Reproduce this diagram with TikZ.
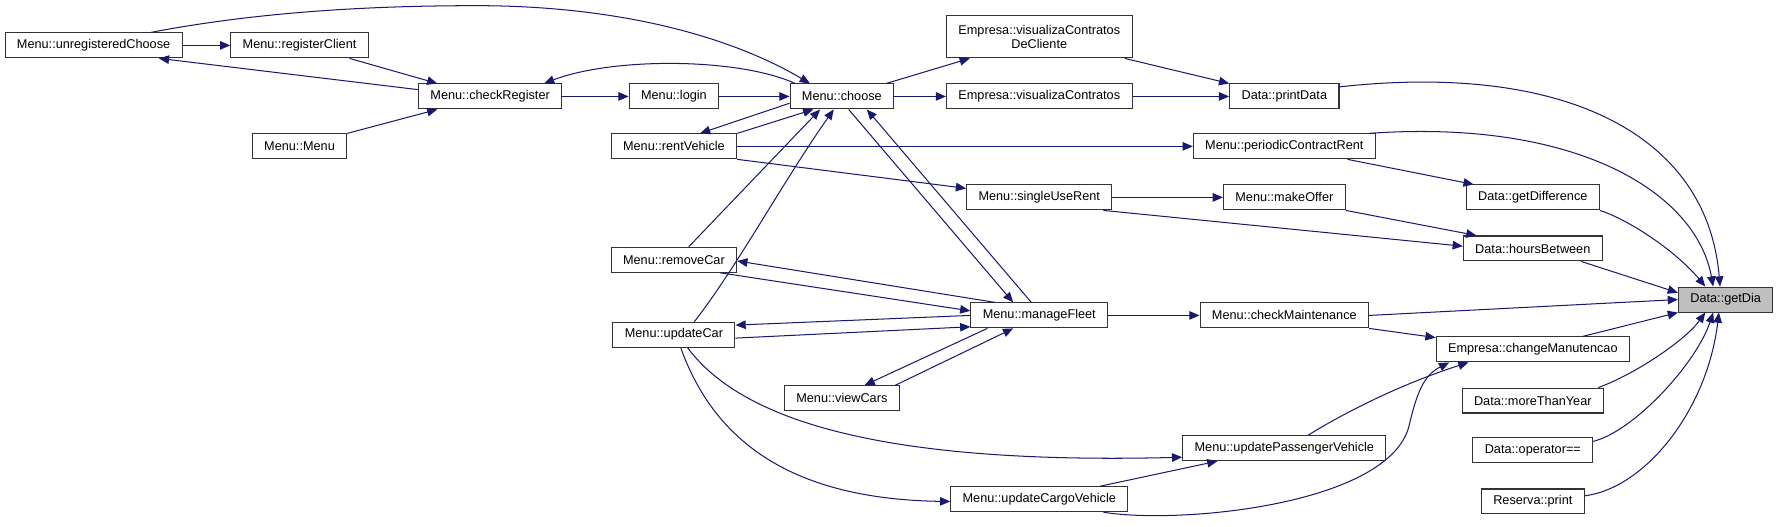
\documentclass[tikz,border=0pt]{standalone}
\usepackage{fontspec}
\setmainfont{Liberation Sans}
\usepackage{xcolor}
\usepackage{tikz}
\usetikzlibrary{arrows.meta}
\definecolor{edgeblue}{HTML}{191970}
\definecolor{hlgray}{HTML}{BFBFBF}

\begin{document}
\begin{tikzpicture}[x=1pt, y=1pt,
  fn/.style={draw=black!80, line width=0.9pt, fill=white, minimum height=22pt,
             inner xsep=10.5pt, inner ysep=2pt, align=center,
             font=\fontsize{11.2}{13}\selectfont},
  hl/.style={fn, fill=hlgray},
  arr/.style={-{Triangle[length=9pt,width=7.5pt]}, edgeblue, line width=0.9pt},
]
\useasboundingbox (0,0) rectangle (1568,-464);

% ====== callers, left part ======
\node[fn] (uc)     at (82.5,-40) {Menu::unregisteredChoose};
\node[fn] (rc)     at (264,-40)  {Menu::registerClient};
\node[fn] (cr)     at (432,-85)  {Menu::checkRegister};
\node[fn] (mm)     at (264,-129) {Menu::Menu};
\node[fn] (login)  at (594,-85)  {Menu::login};
\node[fn] (choose) at (742,-85)  {Menu::choose};
\node[fn] (rv)     at (594,-129) {Menu::rentVehicle};
\node[fn] (rmc)    at (594,-229) {Menu::removeCar};
\node[fn] (upc)    at (594,-295) {Menu::updateCar};
\node[fn] (vcars)  at (742,-351) {Menu::viewCars};

% ====== middle ======
\node[fn, minimum height=37pt] (vcc) at (916,-32.5) {Empresa::visualizaContratos\\DeCliente};
\node[fn] (vc)     at (916,-85)  {Empresa::visualizaContratos};
\node[fn] (sur)    at (916,-174) {Menu::singleUseRent};
\node[fn] (mf)     at (916,-278) {Menu::manageFleet};
\node[fn] (cargo)  at (916,-440) {Menu::updateCargoVehicle};
\node[fn] (pd)     at (1132,-85)  {Data::printData};
\node[fn] (pcr)    at (1132,-129) {Menu::periodicContractRent};
\node[fn] (mo)     at (1132,-174) {Menu::makeOffer};
\node[fn] (cm)     at (1132,-278) {Menu::checkMaintenance};
\node[fn] (upv)    at (1132,-395) {Menu::updatePassengerVehicle};

% ====== right part ======
\node[fn] (gd)     at (1351,-174) {Data::getDifference};
\node[fn] (hb)     at (1351,-219) {Data::hoursBetween};
\node[fn] (chm)    at (1351,-308) {Empresa::changeManutencao};
\node[fn] (mty)    at (1351,-353) {Data::moreThanYear};
\node[fn] (opeq)   at (1351,-397) {Data::operator==};
\node[fn] (rprint) at (1351,-442) {Reserva::print};
\node[hl] (gdia)   at (1521,-264) {Data::getDia};

% ====== calls ======
\draw[arr] (uc.east) -- (rc.west);
\draw[arr] ([xshift=-17pt]rc.south east) -- ([xshift=17pt]cr.north west);
\draw[arr] ([yshift=6pt]cr.west) -- ([xshift=-21pt]uc.south east);
\draw[arr] (mm.north east) -- ([xshift=17pt]cr.south west);
\draw[arr] (cr.east) -- (login.west);
\draw[arr] (login.east) -- (choose.west);
\draw[arr] ([xshift=5pt]choose.north west) .. controls +(-51,23) and +(60,23) .. ([xshift=-16pt]cr.north east);
\draw[arr] ([xshift=-28pt]uc.north east) .. controls (230,-10) and (330,-5) .. (420,-5)
  .. controls (540,-5) and (640,-30) .. ([xshift=18pt]choose.north west);
\draw[arr] ([yshift=-6pt]choose.west) -- ([xshift=23pt]rv.north);
\draw[arr] (rv.north east) -- ([xshift=21pt]choose.south west);
\draw[arr] ([xshift=-7pt]choose.north east) -- ([xshift=21pt]vcc.south west);
\draw[arr] (choose.east) -- (vc.west);
\draw[arr] ([xshift=-7pt]vcc.south east) -- (pd.north west);
\draw[arr] (vc.east) -- (pd.west);
\draw[arr] ([yshift=-3pt]pd.north east) .. controls +(200,22) and +(-11,133) .. ([xshift=-5pt]gdia.north);
\draw[arr] (rv.east) -- (pcr.west);
\draw[arr] ([xshift=-6pt]pcr.north east) .. controls +(183,13) and +(-15,83) .. ([xshift=-11pt]gdia.north);
\draw[arr] ([xshift=-25pt]pcr.south east) -- ([xshift=7pt]gd.north west);
\draw[arr] (rv.south east) -- ([yshift=8pt]sur.west);
\draw[arr] (sur.east) -- (mo.west);
\draw[arr] ([xshift=-8pt]sur.south east) -- ([yshift=2pt]hb.west);
\draw[arr] (mo.south east) -- ([xshift=12pt]hb.north west);
\draw[arr] (gd.south east) .. controls +(30,-10) and +(-23,28) .. ([xshift=-18pt]gdia.north);
\draw[arr] ([xshift=-19pt]hb.south east) -- ([yshift=6pt]gdia.west);

\draw[arr] ([xshift=6pt]choose.south) -- ([xshift=-23pt]mf.north);
\draw[arr] ([xshift=-7pt]mf.north) -- ([xshift=22pt]choose.south);
\draw[arr] ([xshift=13pt]rmc.north) -- ([xshift=27pt]choose.south west);
\draw[arr] ([xshift=18pt]upc.north) .. controls +(38,49) and +(-45,-64) .. ([xshift=39pt]choose.south west);
\draw[arr] ([xshift=22pt]mf.north west) -- ([yshift=-1pt]rmc.east);
\draw[arr] ([xshift=-15pt]rmc.south east) -- ([yshift=4pt]mf.west);
\draw[arr] (mf.west) -- ([yshift=-3pt]upc.north east);
\draw[arr] ([yshift=-3pt]upc.east) -- ([yshift=-10pt]mf.west);
\draw[arr] ([xshift=15pt]mf.south west) -- ([xshift=20pt]vcars.north);
\draw[arr] ([xshift=-4pt]vcars.north east) -- ([xshift=-23pt]mf.south);
\draw[arr] (mf.east) -- (cm.west);
\draw[arr] (cm.east) -- (gdia.west);
\draw[arr] (cm.south east) -- ([yshift=-1pt]chm.north west);
\draw[arr] ([xshift=-42pt]chm.north east) -- (gdia.south west);
\draw[arr] ([xshift=-5pt]mty.north east) .. controls +(31,11) and +(-18,-25) .. ([xshift=-18pt]gdia.south);
\draw[arr] ([yshift=8pt]opeq.east) .. controls +(36,9) and +(-15,-45) .. ([xshift=-11pt]gdia.south);
\draw[arr] ([yshift=5pt]rprint.east) .. controls +(54,7) and +(-10,-85) .. ([xshift=-6pt]gdia.south);

\draw[arr] ([xshift=12pt]upc.south) .. controls +(44,-59) and +(-280,-7) .. ([yshift=-8pt]upv.west);
\draw[arr] ([xshift=6pt]upc.south) .. controls +(30,-84) and +(-138,2) .. ([yshift=-2pt]cargo.west);
\draw[arr] ([xshift=-25pt]cargo.north east) -- ([xshift=31pt]upv.south west);
\draw[arr] ([xshift=21pt]upv.north) .. controls +(47,29) and +(-44,-14) .. ([xshift=29pt]chm.south west);
\draw[arr] ([xshift=-22pt]cargo.south east) .. controls +(67,-11) and +(-17,-70) .. (1242,-375)
  .. controls +(7,30) and +(-22,-11) .. ([xshift=12pt]chm.south west);

\end{tikzpicture}
\end{document}
